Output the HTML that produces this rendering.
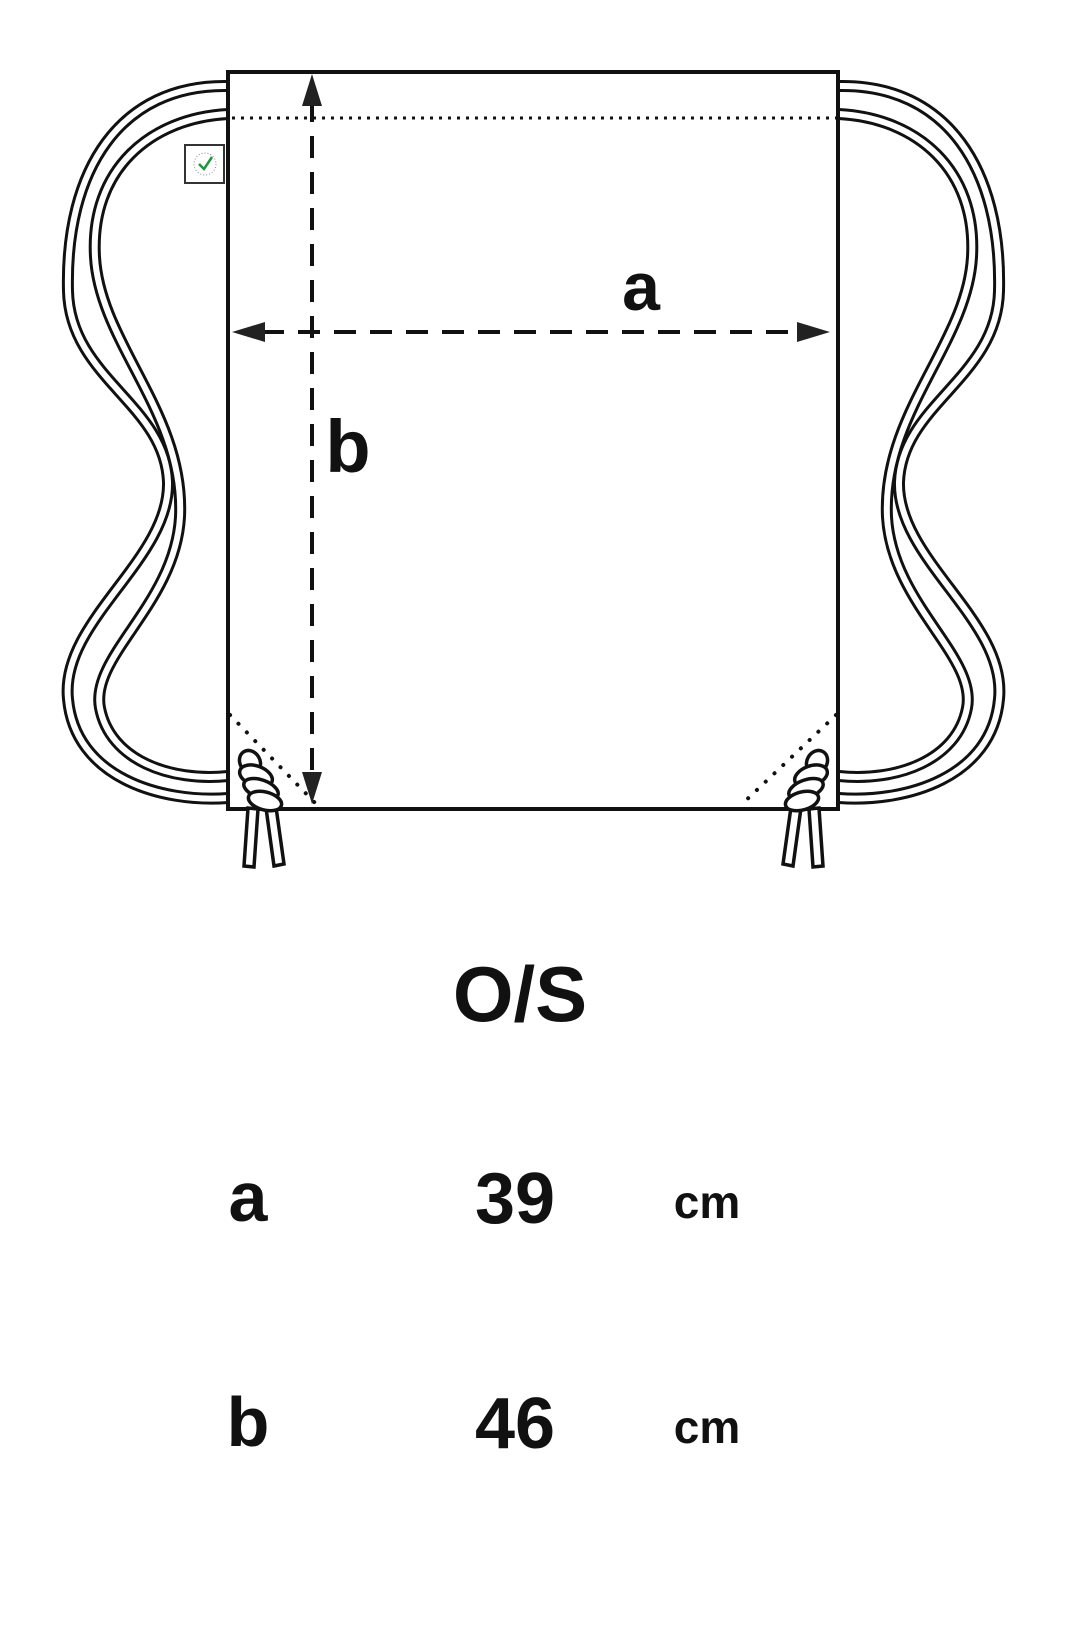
<!DOCTYPE html>
<html><head><meta charset="utf-8"><style>
html,body{margin:0;padding:0;background:#fff}
svg{display:block}
text{font-family:"Liberation Sans",sans-serif;font-weight:bold;fill:#111}
</style></head><body>
<svg width="1069" height="1642" viewBox="0 0 1069 1642" xmlns="http://www.w3.org/2000/svg">
<defs>
<g id="strap">
  <g fill="none" stroke="#111" stroke-width="12" stroke-linecap="round">
    <path d="M228,86 C120,84 65,170 68,291 C70,378 165,404 168,482 C170,560 60,621 68,699 C75,777 160,803 228,798"/>
    <path d="M228,114 C150,118 90,170 95,257 C100,344 185,413 180,517 C175,604 90,656 100,708 C110,760 170,782 228,776"/>
  </g>
  <g fill="none" stroke="#fff" stroke-width="6" stroke-linecap="round">
    <path d="M228,86 C120,84 65,170 68,291 C70,378 165,404 168,482 C170,560 60,621 68,699 C75,777 160,803 228,798"/>
    <path d="M228,114 C150,118 90,170 95,257 C100,344 185,413 180,517 C175,604 90,656 100,708 C110,760 170,782 228,776"/>
  </g>
</g>
<g id="knot">
  <path d="M248,808 L244,866 L254,867 L258,809 Z" fill="#fff" stroke="#111" stroke-width="3.5"/>
  <path d="M266,808 L274,866 L284,864 L276,807 Z" fill="#fff" stroke="#111" stroke-width="3.5"/>
  <g fill="#fff" stroke="#111" stroke-width="3.5">
    <ellipse cx="250" cy="762" rx="10" ry="12" transform="rotate(-30 250 762)"/>
    <ellipse cx="256" cy="776" rx="17" ry="10" transform="rotate(20 256 776)"/>
    <ellipse cx="261" cy="789" rx="18" ry="9" transform="rotate(20 261 789)"/>
    <ellipse cx="265" cy="801" rx="17" ry="9" transform="rotate(15 265 801)"/>
  </g>
</g>
</defs>
<use href="#strap"/>
<use href="#strap" transform="translate(1067,0) scale(-1,1)"/>
<rect x="228" y="72" width="610" height="737" fill="#fff" stroke="#111" stroke-width="4"/>
<rect x="185" y="145" width="39" height="38" fill="#fff" stroke="#333" stroke-width="2"/>
<circle cx="205" cy="164" r="11" fill="none" stroke="#888" stroke-width="1" stroke-dasharray="1 2"/>
<path d="M199,164 L204,169 L212,157" fill="none" stroke="#1a9a3a" stroke-width="2.5"/>
<line x1="232" y1="118" x2="836" y2="118" stroke="#111" stroke-width="3" stroke-dasharray="3 6"/>
<line x1="230" y1="715" x2="318" y2="806" stroke="#111" stroke-width="4" stroke-dasharray="0.1 12" stroke-linecap="round"/>
<line x1="836" y1="715" x2="740" y2="806" stroke="#111" stroke-width="4" stroke-dasharray="0.1 12" stroke-linecap="round"/>
<line x1="312" y1="100" x2="312" y2="780" stroke="#111" stroke-width="4" stroke-dasharray="22 14"/>
<polygon points="312,74 302,106 322,106" fill="#222"/>
<polygon points="312,804 302,772 322,772" fill="#222"/>
<line x1="262" y1="332" x2="802" y2="332" stroke="#111" stroke-width="4" stroke-dasharray="22 14"/>
<polygon points="232,332 265,322 265,342" fill="#222"/>
<polygon points="830,332 797,322 797,342" fill="#222"/>
<text x="641" y="310" font-size="68" text-anchor="middle">a</text>
<text x="348" y="472" font-size="74" text-anchor="middle">b</text>
<use href="#knot"/>
<use href="#knot" transform="translate(1067,0) scale(-1,1)"/>
<text x="520" y="1021" font-size="78" text-anchor="middle">O/S</text>
<text x="248" y="1221" font-size="70" text-anchor="middle">a</text>
<text x="515" y="1223" font-size="72" text-anchor="middle">39</text>
<text x="707" y="1218" font-size="46" text-anchor="middle">cm</text>
<text x="248" y="1446" font-size="70" text-anchor="middle">b</text>
<text x="515" y="1448" font-size="72" text-anchor="middle">46</text>
<text x="707" y="1443" font-size="46" text-anchor="middle">cm</text>
</svg>
</body></html>
